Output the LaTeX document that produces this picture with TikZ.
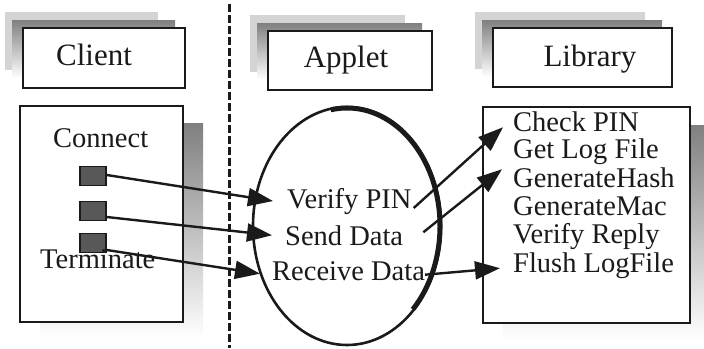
\documentclass[tikz,border=0pt]{standalone}
\usepackage{fontspec}
\setmainfont{Liberation Serif}
\newfontfamily\tms{Liberation Serif}
\usetikzlibrary{arrows.meta}
\definecolor{ink}{HTML}{1A1A1A}
\definecolor{shade}{HTML}{3A3A3A}
\definecolor{stip}{HTML}{D4D4D4}
\tikzset{
  hdrtext/.style={inner sep=0pt, anchor=base, text=ink, font=\tms\fontsize{31}{31}\selectfont},
  bodytext/.style={inner sep=0pt, anchor=base west, text=ink, font=\tms\fontsize{28.5}{28.5}\selectfont},
  frame/.style={draw=ink, line width=2.6pt, fill=white},
  btn/.style={draw=ink, line width=1.6pt, fill=shade!85, inner sep=0pt, minimum width=26pt, minimum height=19pt},
  link/.style={draw=ink, line width=2.4pt, -{Triangle[length=25pt,width=18pt]}},
}
\begin{document}
\begin{tikzpicture}[x=1pt, y=-1pt]
\useasboundingbox (0,0) rectangle (704,348);
% header boxes with top-left shadows
\foreach \xa/\ya/\xb/\yb in {23/28/185/88, 268/31/432/90, 493/28/672/87}{
  \fill[stip] (\xa-18,\ya-16) rectangle (\xb-27,\yb-18);
  \fill[shade] (\xa-11,\ya-8) rectangle (\xb-10,\yb-10);
  \draw[frame] (\xa,\ya) rectangle (\xb,\yb);
}
\node[hdrtext] (client) at (94,65) {Client};
\node[hdrtext] (applet) at (346,67) {Applet};
\node[hdrtext] (library) at (590,66) {Library};
% body boxes with bottom-right shadows
\fill[shade] (40,123) rectangle (203,338);
\draw[frame] (20,106) rectangle (183,322);
\fill[shade] (503,125) rectangle (706,340);
\draw[frame] (483,107) rectangle (690,323);
% dashed divider
\draw[ink, line width=3pt, dash pattern=on 8pt off 3pt] (229,4) -- (229,348);
% ellipse
\draw[ink, line width=2.6pt] (347,226) ellipse [x radius=94, y radius=119];
\draw[ink, line width=5pt] (347,226) ++(-100:93 and 118) arc[start angle=-100, end angle=45, x radius=93, y radius=118];
% client contents
\node[bodytext] (connect) at (53,147) {Connect};
\node[btn] (sq1) at (93,176) {};
\node[btn] (sq2) at (93,211) {};
\node[btn] (sq3) at (93,243) {};
\node[bodytext] (terminate) at (40,268) {Terminate};
% applet contents
\node[bodytext] (vpin) at (287,208) {Verify PIN};
\node[bodytext] (send) at (285,245) {Send Data};
\node[bodytext] (recv) at (272,280) {Receive Data};
% library contents
\node[bodytext] (chk) at (513,131) {Check PIN};
\node[bodytext] (getlog) at (513,158) {Get Log File};
\node[bodytext] (ghash) at (513,187) {GenerateHash};
\node[bodytext] (gmac) at (513,215) {GenerateMac};
\node[bodytext] (vreply) at (513,243) {Verify Reply};
\node[bodytext] (flush) at (513,272) {Flush LogFile};
% arrows client -> applet
\draw[link] ([yshift=1pt]sq1.east) -- ([xshift=-14pt]vpin.west);
\draw[link] ([yshift=-6pt]sq2.east) -- ([xshift=-13pt]send.west);
\draw[link] ([yshift=-7pt]sq3.east) -- ([xshift=-12pt,yshift=-3pt]recv.west);
% arrows applet -> library
\draw[link] ([xshift=2pt,yshift=-7pt]vpin.east) -- ([xshift=-10pt,yshift=-6pt]chk.west);
\draw[link] ([xshift=20pt,yshift=3pt]send.east) -- ([xshift=-11pt,yshift=8pt]ghash.west);
\draw[link] ([yshift=-4pt]recv.east) -- ([xshift=-13pt,yshift=-3pt]flush.west);
\end{tikzpicture}
\end{document}
